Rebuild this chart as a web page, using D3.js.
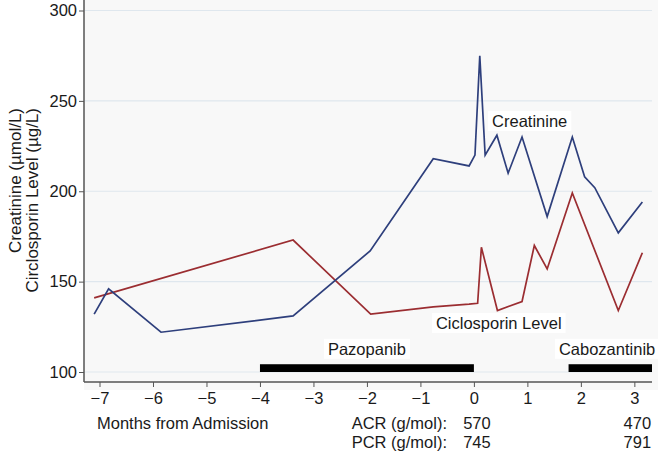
<!DOCTYPE html>
<html><head><meta charset="utf-8">
<script src="https://cdn.jsdelivr.net/npm/d3@7"></script>
<style>
html,body{margin:0;padding:0;background:#fff;}
text{font-family:"Liberation Sans",Arial,sans-serif;fill:#1a1a1a;}
</style></head>
<body><svg id="c" width="669" height="453"></svg>
<script>
const creatMonths = [-7.10, -6.83, -5.85, -3.38, -1.94, -0.76, -0.09, 0.02, 0.11, 0.21, 0.43, 0.64, 0.90, 1.37, 1.84, 2.07, 2.26, 2.70, 3.15];
const creatValues = [132, 146, 122, 131, 167, 218, 214, 220, 275, 220, 231, 210, 230, 186, 230, 208, 202, 177, 194];
const cicloMonths = [-7.10, -3.38, -1.93, -0.76, -0.09, 0.07, 0.14, 0.44, 0.90, 1.13, 1.37, 1.84, 2.70, 3.15];
const cicloValues = [141, 173, 132, 136, 137.5, 138, 169, 134, 139, 170, 157, 199, 134, 166];
const drugNames = ["Pazopanib", "Cabozantinib"];
const drugStart = [-4, 1.77];
const drugEnd = [0, 3.33];
const xTicks = [-7, -6, -5, -4, -3, -2, -1, 0, 1, 2, 3];
const yTicks = [100, 150, 200, 250, 300];
const tableRows = ["ACR (g/mol):", "PCR (g/mol):"];
const tableMonths = [0, 3];
const acrValues = ["570", "470"];
const pcrValues = ["745", "791"];

const FS = 16.5;
const svg = d3.select("#c");
const x = d3.scaleLinear().domain([-7.29, 3.33]).range([84, 652]);
const y = d3.scaleLinear().domain([100, 300]).range([372, 10.5]);
const axisY = 382;

// plot background
svg.append("rect").attr("x", 84).attr("y", 0).attr("width", 574).attr("height", 390).attr("fill", "#f8f8f8");

// gridlines
svg.append("g").selectAll("line").data(yTicks).join("line")
  .attr("x1", 85).attr("x2", 652).attr("y1", d => y(d)).attr("y2", d => y(d))
  .attr("stroke", "#dfe7ee").attr("stroke-width", 1.2);

// y axis
const yAxis = d3.axisLeft(y).tickValues(yTicks).tickSize(5).tickPadding(2).tickFormat(d3.format("d"));
const gy = svg.append("g").attr("transform", "translate(84,0)").call(yAxis);
gy.select(".domain").remove();
gy.append("line").attr("x1", 0).attr("x2", 0).attr("y1", 0).attr("y2", axisY).attr("stroke", "#555").attr("stroke-width", 1.5);
gy.selectAll(".tick line").attr("stroke", "#555");
gy.selectAll(".tick text").attr("font-size", FS).attr("fill", "#1a1a1a").style("font-family", "Liberation Sans, Arial, sans-serif");

// x axis
const xAxis = d3.axisBottom(x).tickValues(xTicks).tickSize(5).tickPadding(5).tickFormat(d => d < 0 ? "\u2212" + Math.abs(d) : d);
const gx = svg.append("g").attr("transform", `translate(0,${axisY})`).call(xAxis);
gx.select(".domain").remove();
gx.append("line").attr("x1", 84).attr("x2", 652).attr("y1", 0).attr("y2", 0).attr("stroke", "#555").attr("stroke-width", 1.5);
gx.selectAll(".tick line").attr("stroke", "#555");
gx.selectAll(".tick text").attr("font-size", FS).attr("fill", "#1a1a1a").style("font-family", "Liberation Sans, Arial, sans-serif");

// drug bars
svg.append("g").selectAll("rect").data(drugNames).join("rect")
  .attr("x", (d, i) => x(drugStart[i])).attr("width", (d, i) => x(drugEnd[i]) - x(drugStart[i]))
  .attr("y", y(104.3)).attr("height", y(100) - y(104.3)).attr("fill", "#000");

// lines
const line = d3.line();
svg.append("path").datum(cicloMonths.map((m, i) => [x(m), y(cicloValues[i])]))
  .attr("d", line).attr("fill", "none").attr("stroke", "#9b2d31").attr("stroke-width", 1.7);
svg.append("path").datum(creatMonths.map((m, i) => [x(m), y(creatValues[i])]))
  .attr("d", line).attr("fill", "none").attr("stroke", "#2e3f7c").attr("stroke-width", 1.7);

// labels with white boxes
function boxLabel(txt, cx, by, anchor) {
  const t = svg.append("text").attr("x", cx).attr("y", by).attr("font-size", FS).attr("text-anchor", anchor).text(txt);
  const b = t.node().getBBox();
  svg.insert("rect", () => t.node()).attr("x", b.x - 4).attr("y", b.y - 1).attr("width", b.width + 8).attr("height", b.height + 2).attr("fill", "#fff");
}
boxLabel("Creatinine", x(0.34), y(235.5), "start");
boxLabel("Ciclosporin Level", x(-0.71), y(123.8), "start");
boxLabel(drugNames[0], x(-2), y(109.5), "middle");
boxLabel(drugNames[1], x(2.49), y(109.5), "middle");

// y axis title
const yt = svg.append("g").attr("transform", "translate(0,108) rotate(-90)");
yt.append("text").attr("x", 0).attr("y", 21).attr("font-size", 17).attr("text-anchor", "end").text("Creatinine (\u00b5mol/L)");
yt.append("text").attr("x", 0).attr("y", 37.5).attr("font-size", 17).attr("text-anchor", "end").text("Circlosporin Level (\u00b5g/L)");

// x axis title & table
svg.append("text").attr("x", 97).attr("y", 429).attr("font-size", FS).text("Months from Admission");
svg.append("g").selectAll("text").data(tableRows).join("text")
  .attr("x", 447).attr("y", (d, i) => 429 + i * 18.5).attr("font-size", FS).attr("text-anchor", "end").text(d => d);
svg.append("g").selectAll("text").data(acrValues).join("text")
  .attr("x", (d, i) => x(tableMonths[i]) + 3).attr("y", 429).attr("font-size", FS).attr("text-anchor", "middle").text(d => d);
svg.append("g").selectAll("text").data(pcrValues).join("text")
  .attr("x", (d, i) => x(tableMonths[i]) + 3).attr("y", 447.5).attr("font-size", FS).attr("text-anchor", "middle").text(d => d);
</script></body></html>
